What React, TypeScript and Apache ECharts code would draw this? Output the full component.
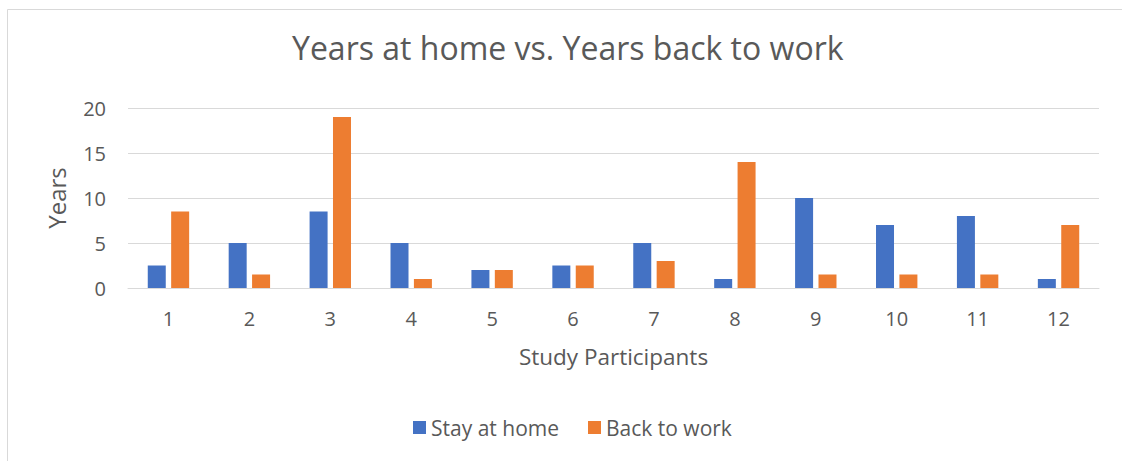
import React, { useEffect, useRef } from "react";
import * as echarts from "echarts";

const categories = ["1", "2", "3", "4", "5", "6", "7", "8", "9", "10", "11", "12"];
const stayAtHome = [2.5, 5, 8.5, 5, 2, 2.5, 5, 1, 10, 7, 8, 1];
const backToWork = [8.5, 1.5, 19, 1, 2, 2.5, 3, 14, 1.5, 1.5, 1.5, 7];
const seriesNames = ["Stay at home", "Back to work"];

const FONT = "Open Sans";
const TEXT = "#595959";

export default function App() {
  const ref = useRef<HTMLDivElement>(null);
  useEffect(() => {
    if (!ref.current) return;
    const chart = echarts.init(ref.current, undefined, { renderer: "svg" });
    chart.setOption({
      animation: false,
      backgroundColor: "#ffffff",
      textStyle: { fontFamily: FONT },
      title: {
        text: "Years at home vs. Years back to work",
        left: 292,
        top: 31,
        padding: 0,
        textStyle: { fontFamily: FONT, fontSize: 32, fontWeight: "normal", color: TEXT },
      },
      graphic: [
        {
          type: "rect",
          shape: { x: 7.5, y: 9.5, width: 1300, height: 600 },
          style: { fill: "none", stroke: "#d9d9d9", lineWidth: 1 },
          silent: true,
          z: -1,
        },
      ],
      legend: {
        bottom: 18,
        left: 408,
        itemWidth: 13,
        itemHeight: 13,
        itemGap: 29,
        icon: "rect",
        textStyle: { fontFamily: FONT, fontSize: 21, color: TEXT },
        data: seriesNames,
      },
      grid: { left: 128, right: 23, top: 108, bottom: 173 },
      xAxis: {
        type: "category",
        data: categories,
        name: "Study Participants",
        nameLocation: "middle",
        nameGap: 57,
        nameTextStyle: { fontFamily: FONT, fontSize: 22.5, color: TEXT },
        axisLine: { lineStyle: { color: "#d9d9d9", width: 1 } },
        axisTick: { show: false },
        axisLabel: { margin: 20, fontFamily: FONT, fontSize: 20, color: TEXT },
      },
      yAxis: {
        type: "value",
        min: 0,
        max: 20,
        interval: 5,
        name: "Years",
        nameLocation: "middle",
        nameGap: 60,
        nameTextStyle: { fontFamily: FONT, fontSize: 24, color: TEXT },
        axisLine: { show: false },
        axisTick: { show: false },
        axisLabel: { margin: 22, fontFamily: FONT, fontSize: 20, color: TEXT },
        splitLine: { lineStyle: { color: "#d9d9d9", width: 1 } },
      },
      series: [
        {
          name: seriesNames[0],
          type: "bar",
          data: stayAtHome,
          barWidth: 18,
          barGap: "30%",
          itemStyle: { color: "#4472c4" },
        },
        {
          name: seriesNames[1],
          type: "bar",
          data: backToWork,
          barWidth: 18,
          barGap: "30%",
          itemStyle: { color: "#ed7d31" },
        },
      ],
    });
    return () => chart.dispose();
  }, []);
  return (
    <div style={{ position: "absolute", left: 0, top: 0, width: 1122, height: 461 }}>
      <div ref={ref} style={{ width: 1122, height: 461 }} />
    </div>
  );
}
